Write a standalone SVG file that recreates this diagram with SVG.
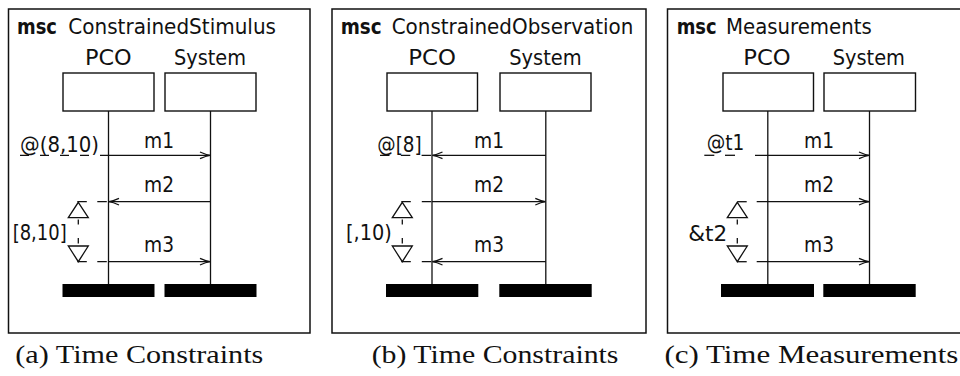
<svg xmlns="http://www.w3.org/2000/svg" width="960" height="376" viewBox="0 0 960 376">
  <style>
    .frame { fill: none; stroke: #111; stroke-width: 1.5; }
    .head { fill: #fff; stroke: #111; stroke-width: 1.4; }
    .life { stroke: #111; stroke-width: 1.3; }
    .bar { fill: #000; }
    .msg { stroke: #111; stroke-width: 1.3; fill: none; }
    .dash { stroke: #111; stroke-width: 1.3; fill: none; }
    .tri { fill: none; stroke: #111; stroke-width: 1.3; stroke-linejoin: miter; }
    .lbl { font-family: "DejaVu Sans", "Liberation Sans", sans-serif; font-size: 21px; fill: #111; }
    .kw { font-weight: bold; }
    .cap { font-family: "Liberation Serif", "DejaVu Serif", serif; font-size: 25px; fill: #111; }
  </style>
  <defs>
    <marker id="arrow" markerUnits="userSpaceOnUse" markerWidth="14" markerHeight="10" viewBox="-11 -5 12 10" refX="0" refY="0" orient="auto" overflow="visible">
      <path d="M -10 -3.3 Q -4 -0.6 0 0 Q -4 0.6 -10 3.3" fill="none" stroke="#111" stroke-width="1.3"/>
    </marker>
    <!-- interval marker: up triangle, dashed stem, down triangle (relative to centre x) -->
    <g id="interval">
      <path class="tri" d="M 0 202.3 L 10 217.7 L -10 217.7 Z"/>
      <line class="dash" x1="0" y1="219.5" x2="0" y2="224.5"/>
      <line class="dash" x1="0" y1="238" x2="0" y2="243.5"/>
      <path class="tri" d="M -10 246 L 10 246 L 0 261.7 Z"/>
    </g>
  </defs>

  <!-- (a) ConstrainedStimulus -->
  <g id="msc-constrained-stimulus" class="lbl">
    <rect class="frame" x="8.5" y="9" width="301.5" height="324"/>
    <text class="kw" x="17" y="34" textLength="40" lengthAdjust="spacingAndGlyphs">msc</text>
    <text x="68.3" y="34" textLength="207.7" lengthAdjust="spacingAndGlyphs">ConstrainedStimulus</text>
  </g>
  <g id="a-pco" class="lbl">
    <text x="85" y="64.5" textLength="46.7" lengthAdjust="spacingAndGlyphs">PCO</text>
    <rect class="head" x="63" y="73" width="91" height="38"/>
    <line class="life" x1="108.5" y1="111" x2="108.5" y2="284"/>
    <rect class="bar" x="62.5" y="284" width="92" height="13"/>
  </g>
  <g id="a-system" class="lbl">
    <text x="174" y="64.5" textLength="72" lengthAdjust="spacingAndGlyphs">System</text>
    <rect class="head" x="165" y="73" width="91" height="38"/>
    <line class="life" x1="210.5" y1="111" x2="210.5" y2="284"/>
    <rect class="bar" x="164.5" y="284" width="92" height="13"/>
  </g>
  <g id="a-connectors">
    <line class="dash" x1="20" y1="155.3" x2="108.5" y2="155.3" stroke-dasharray="9 11"/>
    <line class="msg" x1="108.5" y1="155.3" x2="210" y2="155.3" marker-end="url(#arrow)"/>
    <line class="dash" x1="77.3" y1="201.7" x2="108.5" y2="201.7" stroke-dasharray="9.5 10.5"/>
    <line class="msg" x1="210.5" y1="201.7" x2="109" y2="201.7" marker-end="url(#arrow)"/>
    <line class="dash" x1="77.3" y1="261.7" x2="108.5" y2="261.7" stroke-dasharray="9.5 10.5"/>
    <line class="msg" x1="108.5" y1="261.7" x2="210" y2="261.7" marker-end="url(#arrow)"/>
    <use href="#interval" x="78.3"/>
  </g>
  <g id="a-labels" class="lbl">
    <text x="144" y="148" textLength="30" lengthAdjust="spacingAndGlyphs">m1</text>
    <text x="20" y="151.5" textLength="79" lengthAdjust="spacingAndGlyphs">@(8,10)</text>
    <text x="144" y="192" textLength="30" lengthAdjust="spacingAndGlyphs">m2</text>
    <text x="12.7" y="240" textLength="54" lengthAdjust="spacingAndGlyphs">[8,10]</text>
    <text x="144" y="252" textLength="30" lengthAdjust="spacingAndGlyphs">m3</text>
  </g>

  <!-- (b) ConstrainedObservation -->
  <g id="msc-constrained-observation" class="lbl">
    <rect class="frame" x="332" y="9" width="314" height="324"/>
    <text class="kw" x="340.7" y="34" textLength="41" lengthAdjust="spacingAndGlyphs">msc</text>
    <text x="391.7" y="34" textLength="241.6" lengthAdjust="spacingAndGlyphs">ConstrainedObservation</text>
  </g>
  <g id="b-pco" class="lbl">
    <text x="408.3" y="64.5" textLength="47.7" lengthAdjust="spacingAndGlyphs">PCO</text>
    <rect class="head" x="387" y="73" width="90.5" height="38"/>
    <line class="life" x1="432" y1="111" x2="432" y2="284"/>
    <rect class="bar" x="386" y="284" width="92.3" height="13"/>
  </g>
  <g id="b-system" class="lbl">
    <text x="509.3" y="64.5" textLength="72.4" lengthAdjust="spacingAndGlyphs">System</text>
    <rect class="head" x="500" y="73" width="91" height="38"/>
    <line class="life" x1="545.8" y1="111" x2="545.8" y2="284"/>
    <rect class="bar" x="499.3" y="284" width="92.4" height="13"/>
  </g>
  <g id="b-connectors">
    <line class="dash" x1="380" y1="155.3" x2="432" y2="155.3" stroke-dasharray="9.5 11.3"/>
    <line class="msg" x1="545.8" y1="155.3" x2="432.5" y2="155.3" marker-end="url(#arrow)"/>
    <line class="dash" x1="401.3" y1="201.7" x2="432" y2="201.7" stroke-dasharray="9.5 11"/>
    <line class="msg" x1="432" y1="201.7" x2="545.3" y2="201.7" marker-end="url(#arrow)"/>
    <line class="dash" x1="401.3" y1="261.7" x2="432" y2="261.7" stroke-dasharray="9.5 11"/>
    <line class="msg" x1="545.8" y1="261.7" x2="432.5" y2="261.7" marker-end="url(#arrow)"/>
    <use href="#interval" x="402.3"/>
  </g>
  <g id="b-labels" class="lbl">
    <text x="474" y="148" textLength="30" lengthAdjust="spacingAndGlyphs">m1</text>
    <text x="377.3" y="151.5" textLength="44.4" lengthAdjust="spacingAndGlyphs">@[8]</text>
    <text x="474" y="192" textLength="30" lengthAdjust="spacingAndGlyphs">m2</text>
    <text x="346" y="240" textLength="45.7" lengthAdjust="spacingAndGlyphs">[,10)</text>
    <text x="474" y="252" textLength="30" lengthAdjust="spacingAndGlyphs">m3</text>
  </g>

  <!-- (c) Measurements -->
  <g id="msc-measurements" class="lbl">
    <rect class="frame" x="667.5" y="9" width="320" height="324"/>
    <text class="kw" x="676.7" y="34" textLength="40" lengthAdjust="spacingAndGlyphs">msc</text>
    <text x="726" y="34" textLength="145.7" lengthAdjust="spacingAndGlyphs">Measurements</text>
  </g>
  <g id="c-pco" class="lbl">
    <text x="743.3" y="64.5" textLength="47.4" lengthAdjust="spacingAndGlyphs">PCO</text>
    <rect class="head" x="723" y="73" width="90.5" height="38"/>
    <line class="life" x1="767.8" y1="111" x2="767.8" y2="284"/>
    <rect class="bar" x="721" y="284" width="93" height="13"/>
  </g>
  <g id="c-system" class="lbl">
    <text x="832.7" y="64.5" textLength="72.3" lengthAdjust="spacingAndGlyphs">System</text>
    <rect class="head" x="824" y="73" width="91.5" height="38"/>
    <line class="life" x1="869.5" y1="111" x2="869.5" y2="284"/>
    <rect class="bar" x="823.3" y="284" width="92.4" height="13"/>
  </g>
  <g id="c-connectors">
    <line class="dash" x1="704.3" y1="155.3" x2="714.3" y2="155.3"/>
    <line class="dash" x1="725" y1="155.3" x2="735" y2="155.3"/>
    <line class="msg" x1="755" y1="155.3" x2="869" y2="155.3" marker-end="url(#arrow)"/>
    <line class="dash" x1="737.3" y1="201.7" x2="746.7" y2="201.7"/>
    <line class="msg" x1="756.7" y1="201.7" x2="869" y2="201.7" marker-end="url(#arrow)"/>
    <line class="dash" x1="737.3" y1="261.7" x2="746.7" y2="261.7"/>
    <line class="msg" x1="756.7" y1="261.7" x2="869" y2="261.7" marker-end="url(#arrow)"/>
    <use href="#interval" x="737.3"/>
  </g>
  <g id="c-labels" class="lbl">
    <text x="804" y="148" textLength="30" lengthAdjust="spacingAndGlyphs">m1</text>
    <text x="706.7" y="149.5" textLength="37.6" lengthAdjust="spacingAndGlyphs">@t1</text>
    <text x="804" y="192" textLength="30" lengthAdjust="spacingAndGlyphs">m2</text>
    <text x="688.3" y="240.5" textLength="39" lengthAdjust="spacingAndGlyphs">&amp;t2</text>
    <text x="804" y="252" textLength="30" lengthAdjust="spacingAndGlyphs">m3</text>
  </g>

  <!-- sub-figure captions -->
  <g id="captions" class="cap">
    <text x="15.3" y="363" textLength="248" lengthAdjust="spacingAndGlyphs">(a) Time Constraints</text>
    <text x="371.7" y="363" textLength="246.8" lengthAdjust="spacingAndGlyphs">(b) Time Constraints</text>
    <text x="664.4" y="363" textLength="294" lengthAdjust="spacingAndGlyphs">(c) Time Measurements</text>
  </g>
</svg>
